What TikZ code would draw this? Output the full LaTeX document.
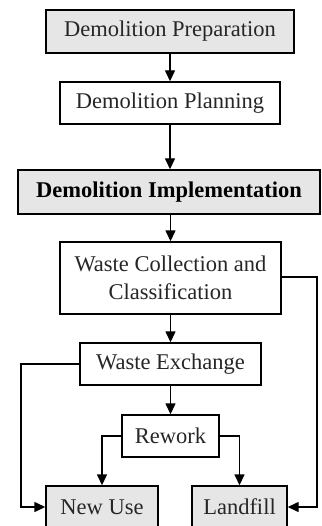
\documentclass[tikz,border=0pt]{standalone}
\usepackage{fontspec}
\setmainfont{Liberation Serif}
\usetikzlibrary{arrows.meta}
\definecolor{boxgray}{HTML}{E6E6E6}
\begin{document}
\begin{tikzpicture}[x=1pt,y=-1pt,
  stage/.style={draw=black, line width=1.4pt, inner sep=0pt, align=center,
    text=black!85, font=\fontsize{22.5}{28}\selectfont},
  shaded/.style={stage, fill=boxgray},
  flow/.style={draw=black, line width=1.4pt,
    -{Triangle[length=11pt,width=10pt]}}]
\clip (0,0) rectangle (321,526);
\fill[white] (0,0) rectangle (321,526);

% process stages
\node[shaded, minimum width=248pt, minimum height=43pt] (prep) at (170,31.5) {Demolition Preparation};
\node[stage, minimum width=220pt, minimum height=42pt] (plan) at (170,103) {Demolition Planning};
\node[shaded, minimum width=302pt, minimum height=44pt, text=black, font=\fontsize{22.5}{28}\selectfont\bfseries] (impl) at (169,192) {Demolition Implementation};
\node[stage, minimum width=221pt, minimum height=72pt] (wcc) at (170.5,278) {Waste Collection and\\Classification};
\node[stage, minimum width=181pt, minimum height=42pt] (wex) at (170.5,364) {Waste Exchange};
\node[stage, minimum width=97pt, minimum height=42pt] (rew) at (170.5,436) {Rework};
\node[shaded, minimum width=112pt, minimum height=42pt] (new) at (102,507) {New Use};
\node[shaded, minimum width=95pt, minimum height=42pt] (land) at (239.5,507) {Landfill};

% bends of the side routes
\coordinate (lt) at (21,364);
\coordinate (lb) at (21,507);
\coordinate (rt) at (317,277);
\coordinate (rb) at (317,507);

% main sequence
\draw[flow] (prep.south -| plan.north) -- (plan.north);
\draw[flow] (plan.south) -- (plan.south |- impl.north);
\draw[flow] (impl.south -| wcc.north) -- (wcc.north);
\draw[flow] (wcc.south) -- (wex.north);
\draw[flow] (wex.south) -- (rew.north);

% rework outcomes
\draw[flow] (rew.west) -| (new.north);
\draw[flow] (rew.east) -| (land.north);

% direct routes
\draw[flow] (wex.west) -- (lt) -- (lb) -- (new.west);
\draw[flow] (wcc.east |- rt) -- (rt) -- (rb) -- (land.east);
\end{tikzpicture}
\end{document}
